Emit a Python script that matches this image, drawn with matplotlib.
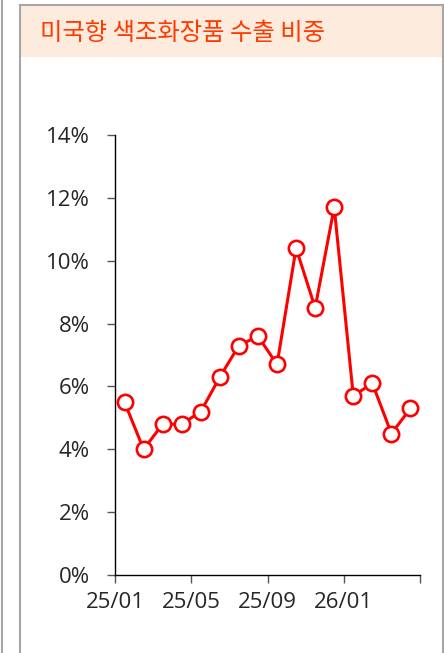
import matplotlib
matplotlib.use("Agg")
import matplotlib.pyplot as plt
from matplotlib.lines import Line2D
from matplotlib.patches import Rectangle

# Share of US-bound colour cosmetics exports, monthly (%)
months = ["25/01", "25/02", "25/03", "25/04", "25/05", "25/06", "25/07", "25/08",
          "25/09", "25/10", "25/11", "25/12", "26/01", "26/02", "26/03", "26/04"]
share = [5.5, 4.0, 4.8, 4.8, 5.2, 6.3, 7.3, 7.6, 6.7, 10.4, 8.5, 11.7, 5.7, 6.1, 4.5, 5.3]
y_ticks = [0, 2, 4, 6, 8, 10, 12, 14]
title = "미국향 색조화장품 수출 비중"

W, H = 444, 653
fig = plt.figure(figsize=(W / 100, H / 100), dpi=100)
fig.patch.set_facecolor("white")

# panel frame and header band (pixel coords converted to figure fraction)
def fx(px):
    return px / W

def fy(py):
    return 1 - py / H

BORDER = "#A6A6A6"
fig.add_artist(Line2D([fx(1.5), fx(1.5)], [0, 1], color=BORDER, lw=1.5))
fig.add_artist(Rectangle((fx(20), fy(57)), fx(422) - fx(0), fy(6) - fy(57),
                         facecolor="#FDEBDD", edgecolor="none", zorder=0))
fig.add_artist(Line2D([fx(20), fx(20)], [0, fy(5)], color=BORDER, lw=1.5))
fig.add_artist(Line2D([fx(442.5), fx(442.5)], [0, fy(5)], color=BORDER, lw=1.5))
fig.add_artist(Line2D([fx(20), fx(442.5)], [fy(5), fy(5)], color=BORDER, lw=1.5))
fig.text(fx(40), fy(33), title, color="#FF3A00", fontsize=17.5,
         family=["Noto Sans CJK KR", "DejaVu Sans"], ha="left", va="center")

ax = fig.add_axes([fx(115), fy(575), fx(420) - fx(115), fy(135) - fy(575)])
x = list(range(len(months)))
ax.plot(x, share, color="#FF0000", lw=2.2, marker="o", markersize=11,
        markerfacecolor="white", markeredgecolor="#FF0000", markeredgewidth=1.9,
        clip_on=False, zorder=3)

ax.set_xlim(-0.5, len(months) - 0.5)
ax.set_ylim(0, 14)
ax.set_yticks(y_ticks)
ax.set_yticklabels([f"{v}%" for v in y_ticks])
ax.set_xticks([i - 0.5 for i in range(0, len(months) + 1, 4)])
ax.set_xticklabels([months[i] if i < len(months) else "" for i in range(0, len(months) + 1, 4)])

for side in ("top", "right"):
    ax.spines[side].set_visible(False)
for side in ("left", "bottom"):
    ax.spines[side].set_color("#000000")
    ax.spines[side].set_linewidth(1.0)
ax.tick_params(axis="both", direction="out", length=6, width=1.0, color="#555555",
               labelsize=16, labelcolor="#262626")
ax.tick_params(axis="y", pad=12)
ax.tick_params(axis="x", pad=6)
for lab in ax.get_xticklabels() + ax.get_yticklabels():
    lab.set_family("Open Sans")

fig.savefig("out.png", dpi=100)
